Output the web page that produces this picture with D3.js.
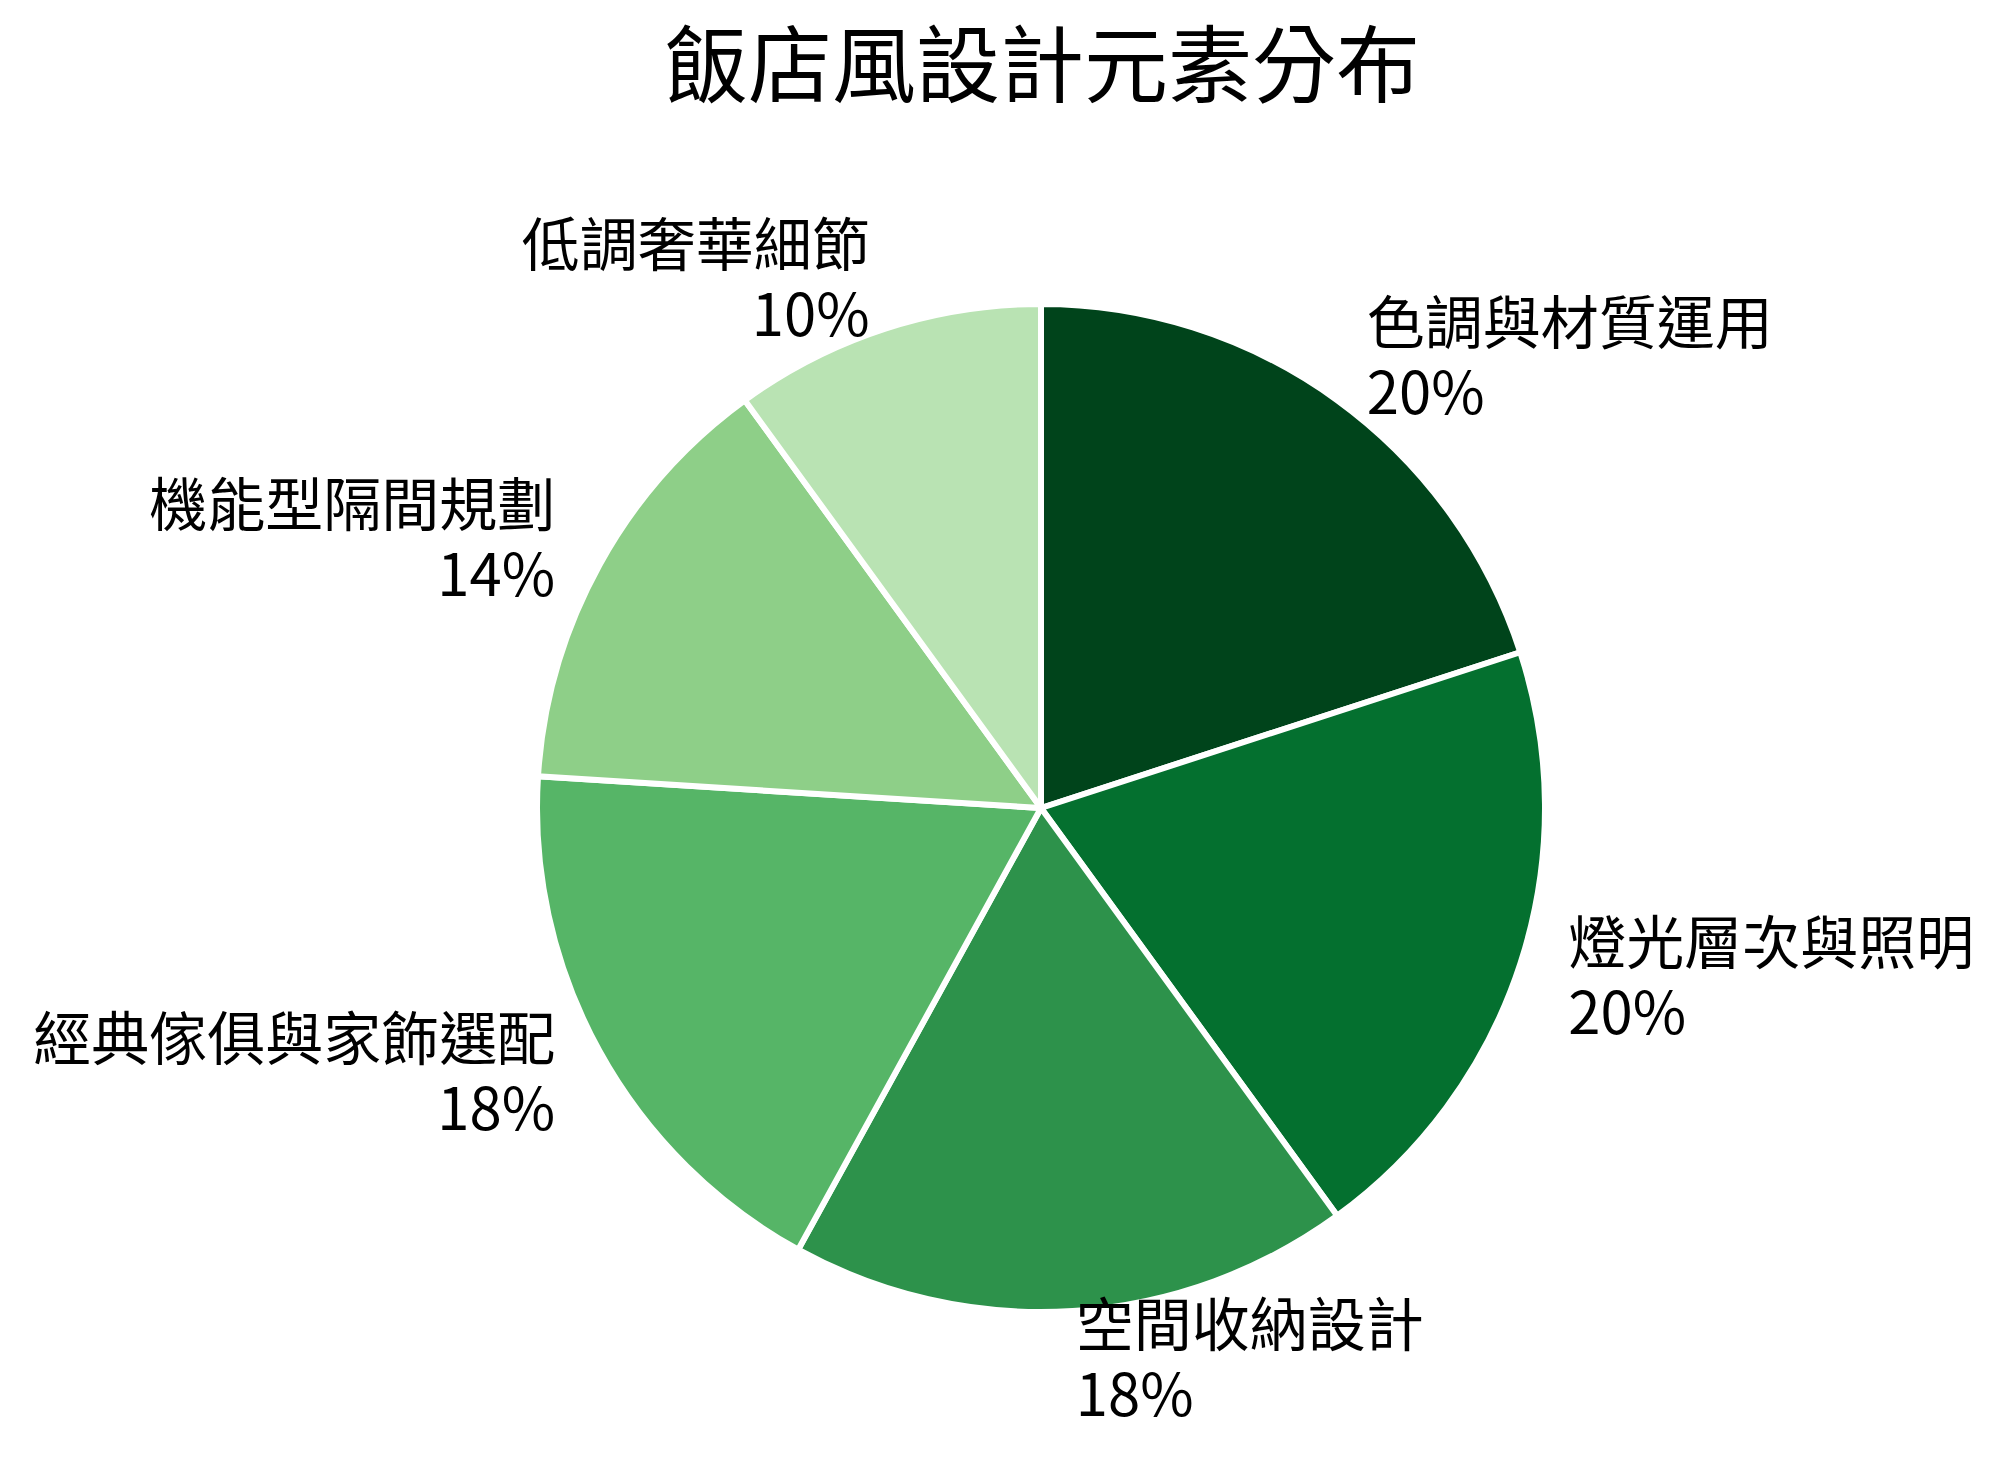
<!DOCTYPE html>
<html>
<head>
<meta charset="utf-8">
<script src="https://cdn.jsdelivr.net/npm/d3@7"></script>
<style>
  body{margin:0;background:#fff;}
  text{font-family:"Noto Sans CJK TC","Noto Sans CJK SC",sans-serif;fill:#000;}
</style>
</head>
<body>
<div id="chart"></div>
<script>
const title="飯店風設計元素分布";
const categories=["色調與材質運用","燈光層次與照明","空間收納設計","經典傢俱與家飾選配","機能型隔間規劃","低調奢華細節"];
const values=[20,20,18,18,14,10];
const colors=["#00441b","#04702f","#2d924b","#56b567","#8ecf88","#b9e3b3"];

const width=2005;
const height=1468;
const cx=1041,cy=808,radius=504;

const data=categories.map((c,i)=>({name:c,value:values[i],color:colors[i]}));

const svg=d3.select("#chart").append("svg")
    .attr("width",width)
    .attr("height",height);

svg.append("text")
    .attr("x",1042)
    .attr("y",96)
    .attr("text-anchor","middle")
    .style("font-size","84px")
    .style("font-weight","normal")
    .text(title);

const pie=d3.pie().value(d=>d.value).sort(null);
const arc=d3.arc().innerRadius(0).outerRadius(radius);
const labelArc=d3.arc().innerRadius(radius*1.1).outerRadius(radius*1.1);

const g=svg.append("g").attr("transform",`translate(${cx},${cy})`);
const arcs=pie(data);

g.selectAll("path")
    .data(arcs)
    .join("path")
    .attr("d",arc)
    .attr("fill",d=>d.data.color)
    .attr("stroke","#fff")
    .attr("stroke-width",6)
    .attr("stroke-linejoin","round");

const label=g.selectAll(".label")
    .data(arcs)
    .join("text")
    .attr("class","label")
    .style("font-size","58px")
    .attr("text-anchor",d=>labelArc.centroid(d)[0]>=0?"start":"end")
    .attr("transform",d=>{
        const [x,y]=labelArc.centroid(d);
        return `translate(${x},${y})`;
    });

label.append("tspan")
    .attr("x",0)
    .attr("y",-15)
    .text(d=>d.data.name);

label.append("tspan")
    .attr("x",0)
    .attr("y",55)
    .text(d=>d.data.value+"%");
</script>
</body>
</html>
